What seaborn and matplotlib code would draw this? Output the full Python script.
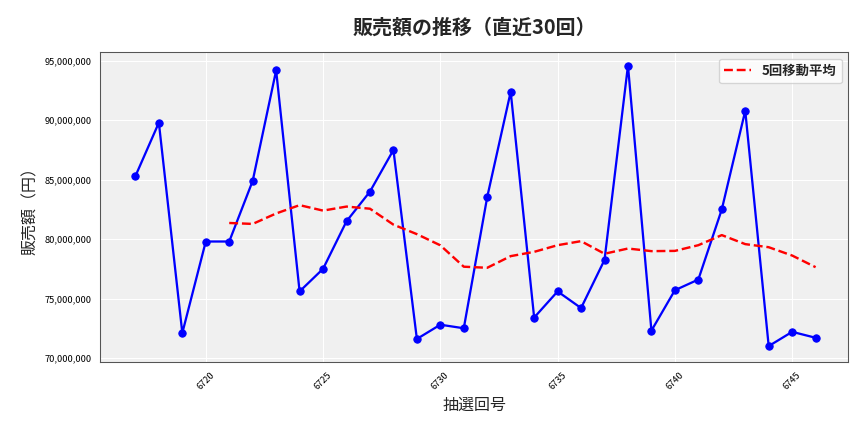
import matplotlib
matplotlib.use("Agg")
import matplotlib.pyplot as plt
import seaborn as sns
import pandas as pd
from matplotlib.ticker import FuncFormatter

draws = list(range(6717, 6747))
sales = [85.3, 89.8, 72.1, 79.8, 79.8, 84.9, 94.2, 75.6, 77.5, 81.5,
         84.0, 87.5, 71.6, 72.8, 72.5, 83.55, 92.4, 73.4, 75.6, 74.2,
         78.25, 94.6, 72.3, 75.7, 76.6, 82.5, 90.8, 71.0, 72.2, 71.7]
sales = [v * 1e6 for v in sales]

df = pd.DataFrame({"draw": draws, "sales": sales})
df["ma"] = df["sales"].rolling(5).mean()

sns.set_style("whitegrid")
plt.rcParams['font.family'] = ['Noto Sans CJK JP', 'DejaVu Sans']

fig, ax = plt.subplots(figsize=(9, 4.5), dpi=96)
ax.set_facecolor("#f0f0f0")
sns.lineplot(data=df, x="draw", y="sales", ax=ax, color="blue", marker="o",
             markersize=5.5, markeredgecolor="blue", linewidth=1.7)
sns.lineplot(data=df, x="draw", y="ma", ax=ax, color="red", linestyle="--",
             linewidth=1.8, label="5回移動平均")
ax.yaxis.set_major_formatter(FuncFormatter(lambda v, p: f"{int(v):,}"))
ax.set_ylim(69.66e6, 95.76e6)
ax.set_xlim(6715.5, 6747.4)
ax.set_xticks([6720, 6725, 6730, 6735, 6740, 6745])
ax.tick_params(axis="x", labelrotation=45, labelsize=7, colors="black", length=3)
ax.tick_params(axis="y", labelsize=7, colors="black", length=3)
ax.grid(color="white", linewidth=0.8)
for s in ax.spines.values():
    s.set_color("#555555")
    s.set_linewidth(0.8)
ax.set_title("販売額の推移（直近30回）", fontsize=15, fontweight="bold", pad=14)
ax.set_xlabel("抽選回号", fontsize=12)
ax.set_ylabel("販売額（円）", fontsize=12)
leg = ax.legend(loc="upper right", fontsize=10)
for t in leg.get_texts():
    t.set_fontweight("bold")
fig.subplots_adjust(left=0.116, right=0.982, top=0.88, bottom=0.162)
fig.savefig("out.png")
